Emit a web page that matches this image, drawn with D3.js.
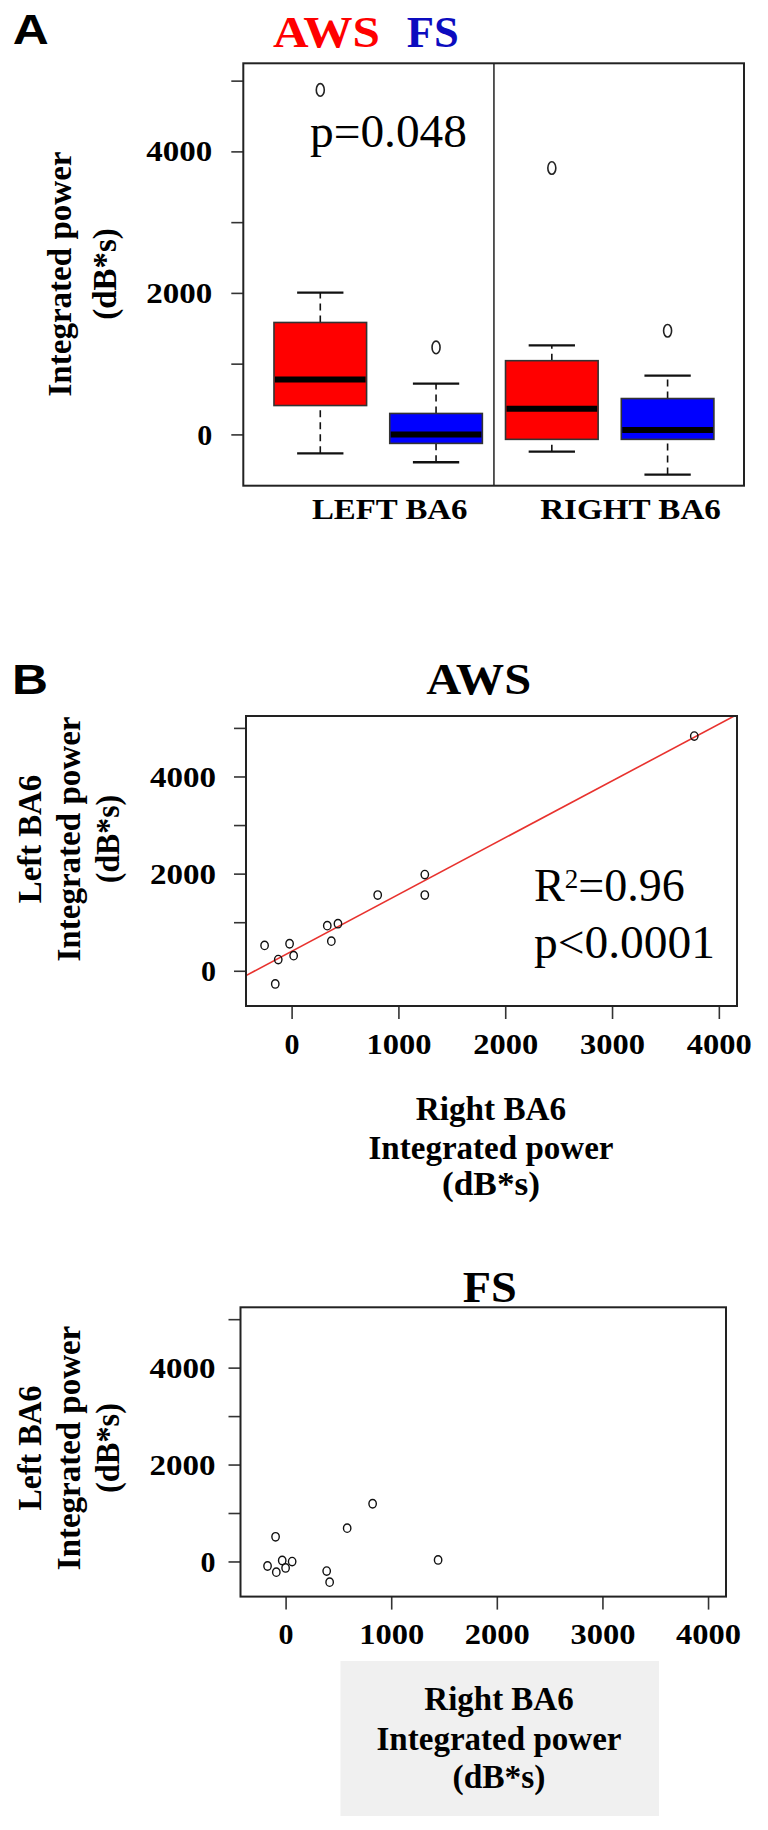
<!DOCTYPE html>
<html>
<head>
<meta charset="utf-8">
<script src="https://cdn.jsdelivr.net/npm/d3@7"></script>
<style>
  html, body { margin: 0; padding: 0; background: #fff; }
  svg { display: block; }
</style>
</head>
<body>
<div id="chart"></div>
<script>
// ---- data ----

// panel A: box summaries [low whisker, q1, median, q3, high whisker]
const groups = ["LEFT  BA6", "RIGHT  BA6"];
const boxSeries = ["AWS", "FS"];
const boxStats = [
  [-268, 408, 775, 1582, 2004],   // left, AWS
  [-394, -127, 0, 296, 718],      // left, FS
  [-244, -70, 362, 1042, 1258],   // right, AWS
  [-568, -70, 61, 507, 831]       // right, FS
];
const boxOutliers = [[4869], [1230], [3765], [1465]];

// panel B: one point per subject (right BA6 vs left BA6)
const awsRight = [-253, -19, -125, 19, -153, 334, 434, 372, 806, 1247, 1247, 3770];
const awsLeft  = [522, 556, 231, 312, -271, 929, 969, 610, 1559, 1980, 1559, 4832];
const fsRight  = [-171, -95, -88, -32, 0, 62, 389, 417, 583, 824, 1444];
const fsLeft   = [-94, 509, -220, 20, -134, -3, -198, -427, 687, 1191, 31];

const yTicks = [0, 1000, 2000, 3000, 4000, 5000];
const yTickLabels = ["0", "", "2000", "", "4000", ""];
const xTicks = [0, 1000, 2000, 3000, 4000];
const xTickLabels = ["0", "1000", "2000", "3000", "4000"];

const yLim = [-725, 5245];
const xLim = [-427, 4170];

// ---- drawing ----
const W = 768, H = 1830;
const serif = '"Liberation Serif", "Times New Roman", serif';
const sans = '"Liberation Sans", Arial, sans-serif';
const RED = "#ff0000", BLUE = "#0000ff";

const svg = d3.select("#chart").append("svg")
  .attr("width", W)
  .attr("height", H);

svg.append("rect").attr("width", W).attr("height", H).attr("fill", "#fff");

function label(g, o) {
  const t = g.append("text")
    .style("font-family", o.family || serif)
    .attr("font-size", o.size)
    .attr("font-weight", o.weight || "bold")
    .attr("fill", o.fill || "#000")
    .attr("text-anchor", o.anchor || "middle")
    .text(o.text);
  if (o.rotate) t.attr("transform", "translate(" + o.x + "," + o.y + ") rotate(-90)");
  else t.attr("x", o.x).attr("y", o.y);
  if (o.len) t.attr("textLength", o.len).attr("lengthAdjust", "spacingAndGlyphs");
  return t;
}

function yAxis(g, y, left, pad) {
  const ax = d3.axisLeft(y)
    .tickValues(yTicks)
    .tickSize(12)
    .tickPadding(pad)
    .tickFormat((d, i) => yTickLabels[i]);
  const a = g.append("g").attr("transform", "translate(" + left + ",0)").call(ax);
  a.select(".domain").remove();
  a.selectAll(".tick line").attr("stroke", "#333").attr("stroke-width", 1.6);
  a.selectAll(".tick text")
    .attr("font-family", serif)
    .attr("font-size", 30)
    .attr("font-weight", "bold")
    .attr("fill", "#000")
    .each(function (d, i) {
      if (yTickLabels[i].length > 1)
        d3.select(this).attr("textLength", 66).attr("lengthAdjust", "spacingAndGlyphs");
    });
}

function xAxis(g, x, bottom) {
  const ax = d3.axisBottom(x)
    .tickValues(xTicks)
    .tickSize(13)
    .tickFormat((d, i) => xTickLabels[i]);
  const a = g.append("g").attr("transform", "translate(0," + bottom + ")").call(ax);
  a.select(".domain").remove();
  a.selectAll(".tick line").attr("stroke", "#333").attr("stroke-width", 1.6);
  a.selectAll(".tick text")
    .attr("y", 47.5)
    .attr("dy", 0)
    .attr("font-family", serif)
    .attr("font-size", 30)
    .attr("font-weight", "bold")
    .attr("fill", "#000")
    .each(function (d, i) {
      if (xTickLabels[i].length > 1)
        d3.select(this).attr("textLength", 65).attr("lengthAdjust", "spacingAndGlyphs");
    });
}

function frame(g, x0, y0, x1, y1) {
  g.append("rect")
    .attr("x", x0).attr("y", y0)
    .attr("width", x1 - x0).attr("height", y1 - y0)
    .attr("fill", "none")
    .attr("stroke", "#222")
    .attr("stroke-width", 2);
}

// ===== Panel A : boxplots =====
const gA = svg.append("g");
const A = { left: 243.3, right: 744, top: 63.3, bottom: 485.7 };

const xA = d3.scaleLinear().domain([0.335, 4.66]).range([A.left, A.right]);
const yA = d3.scaleLinear().domain(yLim).range([A.bottom, A.top]);

label(gA, { text: "A", x: 12.7, y: 43.5, size: 43, family: sans, anchor: "start", len: 36 });
label(gA, { text: boxSeries[0], x: 273, y: 46.7, size: 45, fill: RED, anchor: "start", len: 107 });
label(gA, { text: boxSeries[1], x: 406.7, y: 47.3, size: 45, fill: "#0c0cbf", anchor: "start", len: 52 });

yAxis(gA, yA, A.left, 19);

// divider between left and right hemisphere
gA.append("line")
  .attr("x1", xA(2.5)).attr("x2", xA(2.5))
  .attr("y1", A.top).attr("y2", A.bottom)
  .attr("stroke", "#222").attr("stroke-width", 1.5);

const boxW = 0.8, capW = 0.4;
const boxes = gA.selectAll("g.box")
  .data(boxStats)
  .enter()
  .append("g")
  .attr("class", "box");

boxes.each(function (s, i) {
  const g = d3.select(this);
  const cx = i + 1;
  const fill = i % 2 === 0 ? RED : BLUE;
  // dashed whiskers
  g.selectAll("line.whisker")
    .data([[s[3], s[4]], [s[0], s[1]]])
    .enter()
    .append("line")
    .attr("class", "whisker")
    .attr("x1", xA(cx)).attr("x2", xA(cx))
    .attr("y1", d => yA(d[0])).attr("y2", d => yA(d[1]))
    .attr("stroke", "#111").attr("stroke-width", 1.6)
    .attr("stroke-dasharray", "7,5");
  // whisker caps
  g.selectAll("line.cap")
    .data([s[0], s[4]])
    .enter()
    .append("line")
    .attr("class", "cap")
    .attr("x1", xA(cx - capW / 2)).attr("x2", xA(cx + capW / 2))
    .attr("y1", d => yA(d)).attr("y2", d => yA(d))
    .attr("stroke", "#111").attr("stroke-width", 2.4);
  // box
  g.append("rect")
    .attr("x", xA(cx - boxW / 2))
    .attr("width", xA(cx + boxW / 2) - xA(cx - boxW / 2))
    .attr("y", yA(s[3]))
    .attr("height", yA(s[1]) - yA(s[3]))
    .attr("fill", fill)
    .attr("stroke", "#333").attr("stroke-width", 1.6);
  // median
  g.append("line")
    .attr("x1", xA(cx - boxW / 2) + 1).attr("x2", xA(cx + boxW / 2) - 1)
    .attr("y1", yA(s[2])).attr("y2", yA(s[2]))
    .attr("stroke", "#000").attr("stroke-width", 6);
  // outliers
  g.selectAll("ellipse")
    .data(boxOutliers[i])
    .enter()
    .append("ellipse")
    .attr("cx", xA(cx)).attr("cy", d => yA(d))
    .attr("rx", 4).attr("ry", 6.3)
    .attr("fill", "none")
    .attr("stroke", "#222").attr("stroke-width", 1.6);
});

frame(gA, A.left, A.top, A.right, A.bottom);

label(gA, { text: "p=0.048", x: 310, y: 146.7, size: 47, weight: "normal", anchor: "start", len: 157 });

const groupLabelAt = [1.6, 3.68];
label(gA, { text: groups[0], x: xA(groupLabelAt[0]), y: 519.3, size: 30, len: 155.6 });
label(gA, { text: groups[1], x: xA(groupLabelAt[1]), y: 519.3, size: 30, len: 180.7 });

label(gA, { text: "Integrated  power", x: 71, y: 274, size: 33, rotate: true, len: 245 });
label(gA, { text: "(dB*s)", x: 116, y: 274, size: 33, rotate: true, len: 91.7 });

// ===== Panel B : scatter plots =====
function scatter(o) {
  const g = svg.append("g");
  const x = d3.scaleLinear().domain(xLim).range([o.left, o.right]);
  const y = d3.scaleLinear().domain(yLim).range([o.bottom, o.top]);

  label(g, { text: o.title, x: o.titleX, y: o.titleY, size: 44, len: o.titleLen });

  yAxis(g, y, o.left, o.yPad);
  xAxis(g, x, o.bottom);

  const clipId = "clip-" + o.title;
  g.append("clipPath").attr("id", clipId)
    .append("rect")
    .attr("x", o.left).attr("y", o.top)
    .attr("width", o.right - o.left).attr("height", o.bottom - o.top);

  if (o.fit) {
    // least squares line of left on right
    const mx = d3.mean(o.xs), my = d3.mean(o.ys);
    const slope = d3.sum(o.xs, (v, i) => (v - mx) * (o.ys[i] - my)) /
                  d3.sum(o.xs, v => (v - mx) * (v - mx));
    const icpt = my - slope * mx;
    g.append("line")
      .attr("clip-path", "url(#" + clipId + ")")
      .attr("x1", x(xLim[0])).attr("y1", y(icpt + slope * xLim[0]))
      .attr("x2", x(xLim[1])).attr("y2", y(icpt + slope * xLim[1]))
      .attr("stroke", "#e8322e").attr("stroke-width", 1.6);
  }

  g.selectAll("ellipse.pt")
    .data(o.xs.map((v, i) => [v, o.ys[i]]))
    .enter()
    .append("ellipse")
    .attr("class", "pt")
    .attr("cx", d => x(d[0])).attr("cy", d => y(d[1]))
    .attr("rx", 3.7).attr("ry", 4.2)
    .attr("fill", "none")
    .attr("stroke", "#111").attr("stroke-width", 1.4);

  frame(g, o.left, o.top, o.right, o.bottom);

  // y label (three rotated lines)
  const yl = ["Left BA6", "Integrated  power", "(dB*s)"];
  const ylX = [40.5, 79.5, 119];
  yl.forEach((t, i) => label(g, { text: t, x: ylX[i], y: o.yLabelY, size: 33, rotate: true, len: o.yLabelLen[i] }));

  // x label
  if (o.shade) {
    g.append("rect")
      .attr("x", o.shade[0]).attr("y", o.shade[1])
      .attr("width", o.shade[2]).attr("height", o.shade[3])
      .attr("fill", "#f0f0f0");
  }
  const xl = ["Right BA6", "Integrated  power", "(dB*s)"];
  xl.forEach((t, i) => label(g, { text: t, x: o.xLabelX, y: o.xLabelY[i], size: 33, len: o.xLabelLen[i] }));
  return { g, x, y };
}

const aws = scatter({
  title: "AWS", titleX: 478.7, titleY: 693.6, titleLen: 105,
  left: 246, right: 737, top: 716, bottom: 1006, yPad: 18,
  xs: awsRight, ys: awsLeft, fit: true,
  yLabelY: 839, yLabelLen: [128.3, 245, 88.3],
  xLabelX: 491, xLabelY: [1120, 1159, 1195], xLabelLen: [150.4, 245, 98]
});

label(svg, { text: "B", x: 12, y: 694, size: 42, family: sans, anchor: "start", len: 36 });

const stat = svg.append("text")
  .attr("x", 534).attr("y", 900.7)
  .style("font-family", serif)
  .attr("font-size", 46)
  .attr("fill", "#000");
stat.append("tspan").text("R");
stat.append("tspan").attr("font-size", 27).attr("dy", -13).text("2");
stat.append("tspan").attr("dy", 13).text("=0.96");
label(svg, { text: "p<0.0001", x: 534, y: 958, size: 47, weight: "normal", anchor: "start", len: 181 });

const fs = scatter({
  title: "FS", titleX: 489.8, titleY: 1301.8, titleLen: 54,
  left: 240.5, right: 726, top: 1307.3, bottom: 1596.6, yPad: 13,
  xs: fsRight, ys: fsLeft, fit: false,
  yLabelY: 1448, yLabelLen: [125, 244.4, 90],
  shade: [340.5, 1661, 318.5, 155],
  xLabelX: 499, xLabelY: [1710, 1750, 1788], xLabelLen: [149.3, 245, 93]
});
</script>
</body>
</html>
